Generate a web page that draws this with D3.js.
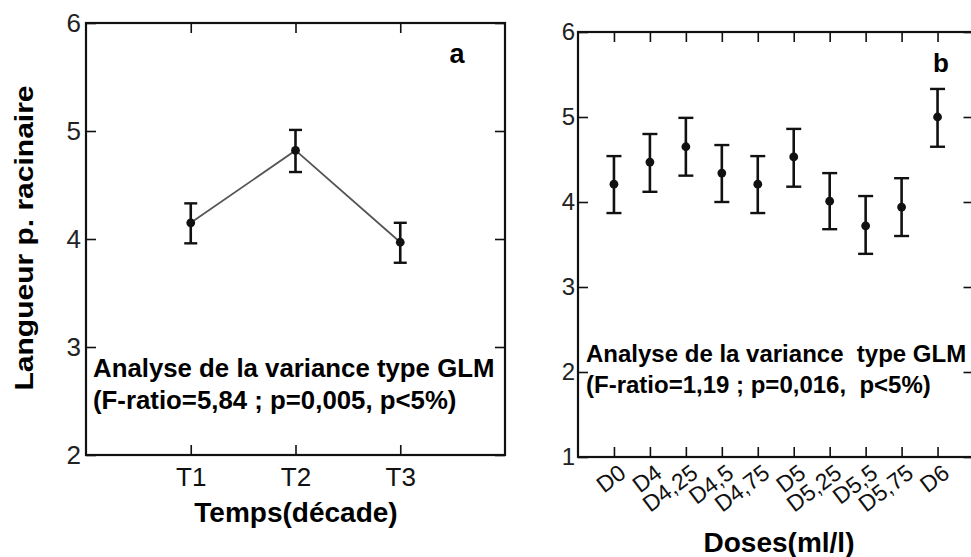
<!DOCTYPE html>
<html>
<head>
<meta charset="utf-8">
<script src="https://cdn.jsdelivr.net/npm/d3@7"></script>
<style>
  html, body { margin: 0; padding: 0; background: #fff; }
  svg { display: block; font-family: "Liberation Sans", Arial, sans-serif; }
</style>
</head>
<body>
<svg id="chart" width="971" height="557"></svg>
<script>
// Panel a: root length by time (decades)
const tempsCategories = ["T1", "T2", "T3"];
const tempsMeans = [4.15, 4.82, 3.97];
const tempsLow   = [3.96, 4.62, 3.78];
const tempsHigh  = [4.33, 5.01, 4.15];
const tempsYTicks = [2, 3, 4, 5, 6];

// Panel b: root length by dose (ml/l)
const doseCategories = ["D0", "D4", "D4,25", "D4,5", "D4,75", "D5", "D5,25", "D5,5", "D5,75", "D6"];
const doseMeans = [4.21, 4.47, 4.65, 4.34, 4.21, 4.53, 4.01, 3.72, 3.94, 5.00];
const doseLow   = [3.87, 4.12, 4.31, 4.00, 3.87, 4.18, 3.68, 3.39, 3.60, 4.65];
const doseHigh  = [4.54, 4.80, 4.99, 4.67, 4.54, 4.86, 4.34, 4.07, 4.28, 5.33];
const doseYTicks = [1, 2, 3, 4, 5, 6];

const FONT = '"Liberation Sans", Arial, sans-serif';
const svg = d3.select("#chart");

function styleAxis(sel, size, color, weight) {
  sel.attr("font-family", FONT).attr("font-size", size);
  sel.selectAll("text").attr("fill", color).style("font-weight", weight || "normal");
}

function drawPanel(opt) {
  const { left, right, top, bottom, cats, means, low, high, yDomain, yTicks } = opt;
  const x = d3.scalePoint().domain(cats).range([left, right]).padding(1);
  const y = d3.scaleLinear().domain(yDomain).range([bottom, top]);
  const g = svg.append("g");

  // inward ticks on all four sides
  const tick = 10;
  const yl = g.append("g").attr("transform", `translate(${left},0)`)
    .call(d3.axisLeft(y).tickValues(yTicks).tickSize(-tick).tickSizeOuter(0).tickPadding(opt.yPad).tickFormat(d3.format("d")));
  styleAxis(yl, opt.yFont, "#222", opt.yWeight);
  g.append("g").attr("transform", `translate(${right},0)`)
    .call(d3.axisRight(y).tickValues(yTicks).tickSize(-tick).tickSizeOuter(0).tickFormat(""));
  const xb = g.append("g").attr("transform", `translate(0,${bottom})`)
    .call(d3.axisBottom(x).tickSize(-tick).tickSizeOuter(0).tickPadding(opt.xPad));
  styleAxis(xb, opt.xFont, "#111");
  g.append("g").attr("transform", `translate(0,${top})`)
    .call(d3.axisTop(x).tickSize(-tick).tickSizeOuter(0).tickFormat(""));
  g.selectAll(".domain").remove();
  g.selectAll(".tick line").attr("stroke", "#111").attr("stroke-width", 1.6);

  // frame
  g.append("rect")
    .attr("x", left).attr("y", top)
    .attr("width", right - left).attr("height", bottom - top)
    .attr("fill", "none").attr("stroke", "#111").attr("stroke-width", 2.2);

  if (opt.connect) {
    g.append("path")
      .datum(cats.map((c, i) => [x(c), y(means[i])]))
      .attr("d", d3.line())
      .attr("fill", "none").attr("stroke", "#555").attr("stroke-width", 1.8);
  }

  const cap = opt.cap;
  const bars = g.append("g").selectAll("g").data(cats).join("g");
  bars.append("line")
    .attr("x1", d => x(d)).attr("x2", d => x(d))
    .attr("y1", (d, i) => y(low[i])).attr("y2", (d, i) => y(high[i]))
    .attr("stroke", "#111").attr("stroke-width", 2.6);
  bars.append("line")
    .attr("x1", d => x(d) - cap / 2).attr("x2", d => x(d) + cap / 2)
    .attr("y1", (d, i) => y(high[i])).attr("y2", (d, i) => y(high[i]))
    .attr("stroke", "#111").attr("stroke-width", 2.4);
  bars.append("line")
    .attr("x1", d => x(d) - cap / 2).attr("x2", d => x(d) + cap / 2)
    .attr("y1", (d, i) => y(low[i])).attr("y2", (d, i) => y(low[i]))
    .attr("stroke", "#111").attr("stroke-width", 2.4);
  bars.append("circle")
    .attr("cx", d => x(d)).attr("cy", (d, i) => y(means[i]))
    .attr("r", 4.4).attr("fill", "#111");

  return { g, x, y, xb };
}

// ---- Panel a ----
const pa = drawPanel({
  left: 86, right: 505, top: 23, bottom: 455,
  cats: tempsCategories, means: tempsMeans, low: tempsLow, high: tempsHigh,
  yDomain: [2, 6], yTicks: tempsYTicks, yPad: 5, yFont: 26, xPad: 13, xFont: 26,
  cap: 13, connect: true
});

pa.g.append("text").attr("x", 457).attr("y", 63)
  .attr("text-anchor", "middle").style("font-size", "27px").style("font-weight", "bold")
  .text("a");

pa.g.append("text").attr("x", 93).attr("y", 377)
  .style("font-size", "25.8px").style("font-weight", "bold")
  .text("Analyse de la variance type GLM");
pa.g.append("text").attr("x", 93).attr("y", 409)
  .style("font-size", "25.8px").style("font-weight", "bold")
  .text("(F-ratio=5,84 ; p=0,005, p<5%)");

pa.g.append("text").attr("x", 296).attr("y", 522)
  .attr("text-anchor", "middle").style("font-size", "28px").style("font-weight", "bold")
  .text("Temps(décade)");

pa.g.append("text")
  .attr("transform", "translate(33,238) rotate(-90)")
  .attr("text-anchor", "middle")
  .attr("textLength", 305).attr("lengthAdjust", "spacingAndGlyphs")
  .style("font-size", "26px").style("font-weight", "bold")
  .text("Langueur p. racinaire");

// ---- Panel b ----
const pb = drawPanel({
  left: 578, right: 973.5, top: 32, bottom: 457,
  cats: doseCategories, means: doseMeans, low: doseLow, high: doseHigh,
  yDomain: [1, 6], yTicks: doseYTicks, yPad: 3, yFont: 24, yWeight: "normal", xPad: 10, xFont: 23,
  cap: 15, connect: false
});

// slanted dose labels
pb.xb.selectAll(".tick text")
  .attr("x", 0).attr("y", 0).attr("dy", 0)
  .attr("transform", "translate(13,19) rotate(-37)")
  .style("text-anchor", "end");

pb.g.append("text").attr("x", 941).attr("y", 72)
  .attr("text-anchor", "middle").style("font-size", "26px").style("font-weight", "bold")
  .text("b");

pb.g.append("text").attr("x", 586).attr("y", 362)
  .style("font-size", "24px").style("font-weight", "bold")
  .style("white-space", "pre").attr("xml:space", "preserve")
  .text("Analyse de la variance  type GLM");
pb.g.append("text").attr("x", 586).attr("y", 393)
  .style("font-size", "24px").style("font-weight", "bold")
  .style("white-space", "pre").attr("xml:space", "preserve")
  .text("(F-ratio=1,19 ; p=0,016,  p<5%)");

pb.g.append("text").attr("x", 779).attr("y", 552)
  .attr("text-anchor", "middle").style("font-size", "28px").style("font-weight", "bold")
  .text("Doses(ml/l)");
</script>
</body>
</html>
